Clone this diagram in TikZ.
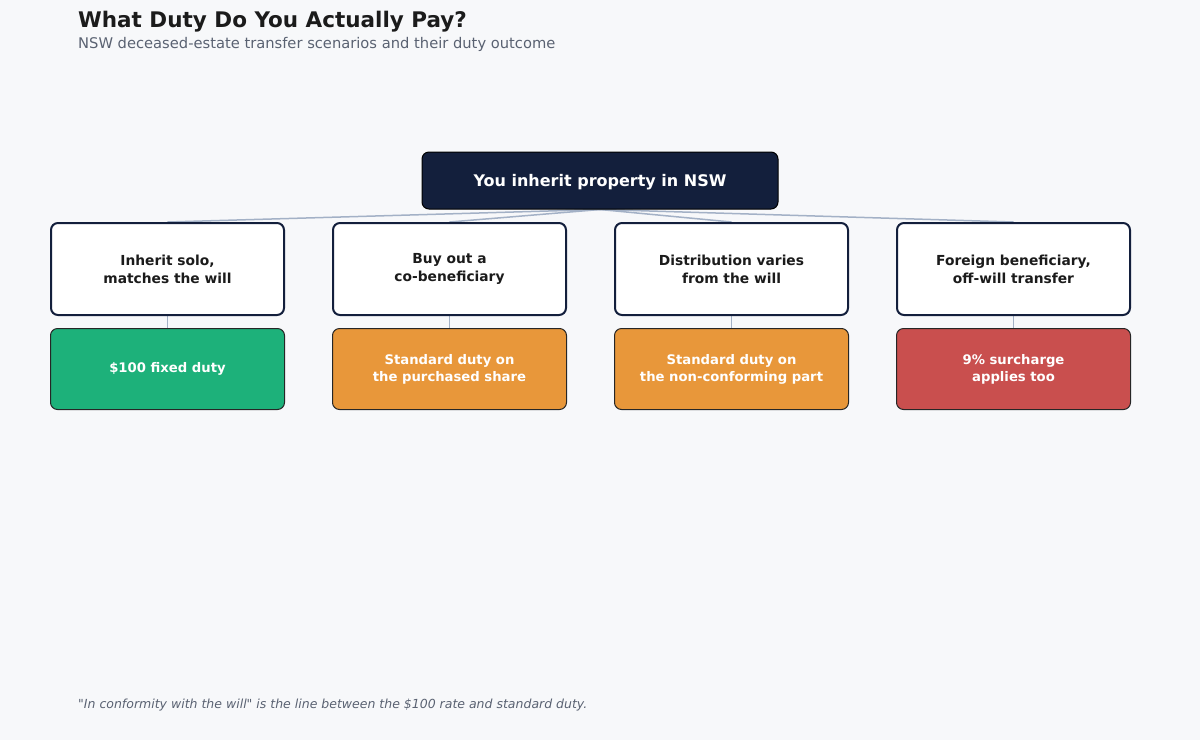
\documentclass[tikz,border=0pt]{standalone}
\usepackage{fontspec}
\setmainfont{DejaVu Sans}[Ligatures=TeXOff]
\usetikzlibrary{backgrounds}
\definecolor{bgcol}{HTML}{F7F8FA}
\definecolor{navy}{HTML}{131F3C}
\definecolor{linkcol}{HTML}{A3B1C6}
\definecolor{inkcol}{HTML}{1B1B1B}
\definecolor{greycol}{HTML}{5A6272}
\definecolor{okgreen}{HTML}{1DB17A}
\definecolor{warnorange}{HTML}{E8973A}
\definecolor{badred}{HTML}{C94F4E}
\begin{document}
\begin{tikzpicture}[x=1pt, y=-1pt]
\tikzset{rootbox/.style={shape=rectangle, rounded corners=7pt, draw=black, line width=1pt, fill=navy, text=white, minimum width=356pt, minimum height=57pt, text depth=0pt, font=\bfseries\fontsize{16}{19}\selectfont}}
\tikzset{casebox/.style={shape=rectangle, rounded corners=7pt, draw=navy, line width=2pt, fill=white, text=inkcol, minimum width=233pt, minimum height=92pt, align=center, font=\bfseries\fontsize{13.8}{18}\selectfont}}
\tikzset{dutybox/.style={shape=rectangle, rounded corners=7pt, draw=black!85, line width=1pt, text=white, minimum width=234pt, minimum height=81pt, align=center, font=\bfseries\fontsize{13.2}{17}\selectfont}}
\tikzset{link/.style={draw=linkcol, line width=1.5pt}}
\tikzset{caption/.style={anchor=base west, inner sep=0pt, text=greycol}}
% headings
\node[caption, text=inkcol, font=\bfseries\fontsize{21.5}{24}\selectfont] (title) at (78,27) {What Duty Do You Actually Pay?};
\node[caption, font=\fontsize{14.7}{17}\selectfont] (subtitle) at (78,48) {NSW deceased-estate transfer scenarios and their duty outcome};
\node[caption, font=\itshape\fontsize{12.5}{15}\selectfont] (footnote) at (78,708) {"In conformity with the will" is the line between the \$100 rate and standard duty.};
% root
\node (root) [rootbox]                      at (600, 180.5) {You inherit property in NSW};
% scenarios
\node (c1) [casebox]                        at ( 167.5, 269) {Inherit solo,\\matches the will};
\node (c2) [casebox]                        at ( 449.5, 269) {Buy out a\\co-beneficiary};
\node (c3) [casebox]                        at ( 731.5, 269) {Distribution varies\\from the will};
\node (c4) [casebox]                        at (1013.5, 269) {Foreign beneficiary,\\off-will transfer};
% outcomes
\node (d1) [dutybox, fill=okgreen]          at ( 167.5, 369) {\$100 fixed duty};
\node (d2) [dutybox, fill=warnorange]       at ( 449.5, 369) {Standard duty on\\the purchased share};
\node (d3) [dutybox, fill=warnorange]       at ( 731.5, 369) {Standard duty on\\the non-conforming part};
\node (d4) [dutybox, fill=badred]           at (1013.5, 369) {9\% surcharge\\applies too};
% links, behind the boxes
\begin{scope}[on background layer]
\fill[bgcol] (0,0) rectangle (1200,740);
\foreach \i in {1,...,4} {
  \draw[link] (root.south) -- (c\i.north);
  \draw[link] (c\i.south) -- (d\i.north);
}
\end{scope}
\end{tikzpicture}
\end{document}
